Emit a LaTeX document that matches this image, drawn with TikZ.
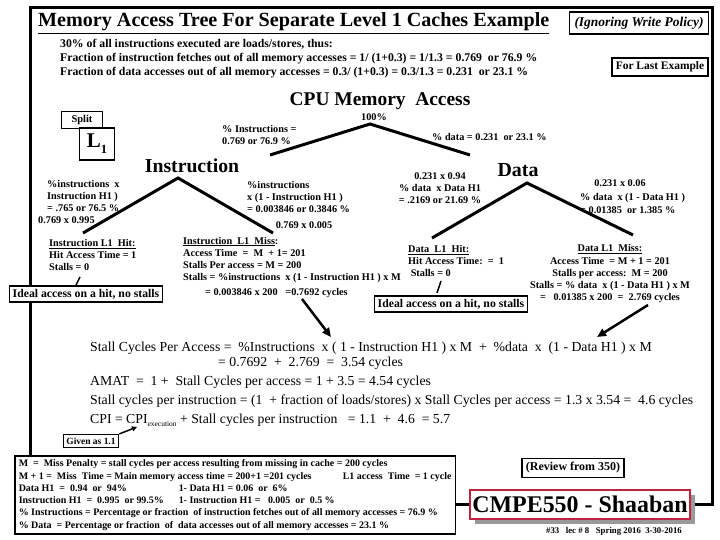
\documentclass[tikz,border=0pt]{standalone}
\usepackage{fontspec}
\setmainfont{Liberation Serif}
\usetikzlibrary{arrows.meta,shadows,backgrounds}
\definecolor{cmpered}{RGB}{190,35,65}
\newcommand\fs[2]{\fontsize{#1}{#2}\selectfont\bfseries}
\begin{document}
\begin{tikzpicture}[x=1bp,y=-1bp,
  frame/.style={line width=3bp},
  branch/.style={line width=3bp},
  lbl/.style={inner sep=0pt,align=left,font=\fs{10.3}{12.3}},
  mid/.style={inner sep=0pt,align=left,font=\fontsize{13.8}{19}\selectfont},
  box/.style={draw,line width=1.5bp,fill=white,inner sep=3bp},
  arr/.style={line width=2.5bp,-{Triangle[length=9bp,width=8bp]}},
  tick/.style={line width=1.5bp}]
\useasboundingbox (0,0) rectangle (720,540);
\node[anchor=base west,inner sep=0pt,font=\fs{20.2}{24}] (title) at (38,27) {\underline{Memory Access Tree For Separate Level 1 Caches Example}};
\node[box,inner sep=5bp,font=\fs{13.5}{15}\itshape] (ignore) at (639,23) {(Ignoring Write Policy)};
\node[lbl,anchor=west,font=\fs{11.8}{14}] (intro) at (60,59) {30\% of all instructions executed are loads/stores, thus:\\
Fraction of instruction fetches out of all memory accesses = 1/ (1+0.3) = 1/1.3 = 0.769\ \ or 76.9 \%\\
Fraction of data accesses out of all memory accesses = 0.3/ (1+0.3) = 0.3/1.3 = 0.231\ \ or 23.1 \%};
\node[box,inner sep=4bp,font=\fs{11.5}{13}] (last) at (660,67) {For Last Example};

\node[inner sep=0pt,font=\fs{19.5}{22}] (cpu) at (380,101) {CPU Memory\ \ Access};
\node[lbl] (all) at (374,117) {100\%};
\coordinate (root) at (370,124);
\coordinate (rootL) at (270,155);
\coordinate (rootR) at (470,155);
\draw[branch] (rootL) -- (root) -- (rootR);
\node[lbl,anchor=west] (pinst) at (222,135) {\% Instructions =\\0.769 or 76.9 \%};
\node[lbl,anchor=west] (pdata) at (432,137) {\% data = 0.231\ \ or\ 23.1 \%};

\node[box,minimum width=41bp,minimum height=17bp,inner sep=0pt,font=\fs{10.5}{12}] (split) at (82,120) {Split};
\node[box,minimum width=35bp,minimum height=32bp,inner sep=0pt,font=\fs{21}{22}] (l1) at (97,144) {L\raisebox{-0.3em}{\fs{12.5}{12}1}};

\node[inner sep=0pt,font=\fs{19.8}{22}] (inst) at (192,166) {Instruction};
\coordinate (ipeak) at (178,178);
\coordinate (iL) at (83,233);
\coordinate (iR) at (273,233);
\draw[branch] (iL) -- (ipeak) -- (iR);
\node[lbl,anchor=west] (ihitp) at (47,196) {\%instructions\ \ x\\Instruction H1 )\\= .765 or 76.5 \%};
\node[lbl,anchor=west] (ihitv) at (38,220) {0.769 x 0.995};
\node[lbl,anchor=west] (imissp) at (247,197) {\%instructions\\x (1 - Instruction H1 )\\= 0.003846 or 0.3846 \%};
\node[lbl] (imissv) at (304,225) {0.769 x 0.005};

\node[inner sep=0pt,font=\fs{20}{22}] (data) at (518,170) {Data};
\coordinate (dpeak) at (527,183);
\coordinate (dL) at (432,238);
\coordinate (dR) at (633,235);
\draw[branch] (dL) -- (dpeak) -- (dR);
\node[lbl,align=center] (dhitp) at (440,188) {0.231 x 0.94\\\% data\ \ x Data H1\\= .2169 or 21.69 \%};
\node[lbl] (dmissv) at (620,183) {0.231 x 0.06};
\node[lbl,anchor=west] (dmissp) at (580,203.5) {\% data\ \ x (1 - Data H1 )\\= 0.01385\ \ or\ 1.385 \%};

\node[lbl,anchor=west] (ihit) at (49,255) {\underline{Instruction L1\ \ Hit:}\\Hit Access Time = 1\\Stalls = 0};
\node[lbl,anchor=west] (imiss) at (183,260) {\underline{Instruction\ \ L1\ \ Miss}:\\Access Time\ \ =\ \ M\ \ + 1= 201\\Stalls Per access = M = 200\\Stalls = \%instructions\ \ x (1 - Instruction H1 ) x M};
\node[lbl,anchor=west] (icyc) at (205,293) {= 0.003846 x 200\ \ \ =0.7692 cycles};
\node[lbl,anchor=west] (dhit) at (408,261) {\underline{Data\ \ L1\ \ Hit:}\\Hit Access Time:\ \ =\ \ 1\\\ Stalls = 0};
\node[lbl,align=center] (dmiss) at (610,274) {\underline{Data L1\ \ Miss:}\\Access Time\ \ = M + 1 = 201\\Stalls per access:\ \ M = 200\\Stalls = \% data\ \ x (1 - Data H1 ) x M\\=\ \ \ 0.01385 x 200\ \ =\ \ 2.769 cycles};

\node[box,font=\fs{11.8}{13}] (ideal1) at (86,294) {Ideal access on a hit, no stalls};
\node[box,font=\fs{11.8}{13}] (ideal2) at (451,304) {Ideal access on a hit, no stalls};
\coordinate (t1a) at (80,277);
\coordinate (t1b) at (76,285);
\coordinate (t2a) at (441,281);
\coordinate (t2b) at (437,293);
\draw[tick] (t1a) -- (t1b);
\draw[tick] (t2a) -- (t2b);

\node[mid,anchor=west] (stall) at (90,348) {Stall Cycles Per Access =\ \ \%Instructions\ \ x ( 1 - Instruction H1 ) x M\ \ +\ \ \%data\ \ x\ \ (1 - Data H1 ) x M};
\node[mid,anchor=west] (stallv) at (218,363) {= 0.7692\ \ +\ \ 2.769\ \ =\ \ 3.54 cycles};
\node[mid,anchor=west] (amat) at (90,401) {AMAT\ \ =\ \ 1 +\ \ Stall Cycles per access = 1 + 3.5 = 4.54 cycles\\
Stall cycles per instruction = (1\ \ + fraction of loads/stores) x Stall Cycles per access = 1.3 x 3.54 =\ \ 4.6 cycles\\
CPI = CPI\raisebox{-3bp}{\fontsize{7.5}{7}\selectfont execution} + Stall cycles per instruction\ \ \ = 1.1\ \ +\ \ 4.6\ \ = 5.7};
\coordinate (a1s) at (302,299);
\coordinate (a1e) at (331,337);
\coordinate (a2s) at (648,305);
\coordinate (a2e) at (597,337);
\draw[arr] (a1s) -- (a1e);
\draw[arr] (a2s) -- (a2e);

\node[box,font=\fs{9.5}{11}] (given) at (91,441) {Given as 1.1};
\coordinate (cpiexec) at (137,427);
\draw[line width=1.5bp,-{Triangle[length=5bp,width=5bp]}] (given.north east) -- (cpiexec);

\node[box,anchor=north west,align=left,inner sep=4bp,font=\fs{10}{12.3}] (defs) at (14,455) {M\ \ =\ \ Miss Penalty = stall cycles per access resulting from missing in cache = 200 cycles\\
\makebox[324bp][l]{M + 1 =\ \ Miss\ \ Time = Main memory access time = 200+1 =201 cycles}L1 access\ \ Time\ \ = 1 cycle\\
\makebox[160bp][l]{Data H1\ \ =\ \ 0.94\ \ or\ \ 94\%}1- Data H1 = 0.06\ \ or\ \ 6\%\\
\makebox[160bp][l]{Instruction H1\ \ =\ \ 0.995\ \ or 99.5\%}1- Instruction H1 =\ \ \ 0.005\ \ or\ \ 0.5 \%\\
\% Instructions = Percentage or fraction\ \ of instruction fetches out of all memory accesses = 76.9 \%\\
\% Data\ \ = Percentage or fraction\ \ of\ \ data accesses out of all memory accesses = 23.1 \%};

\node[box,inner sep=4bp,font=\fs{12}{13}] (review) at (573,468) {(Review from 350)};
\node[draw=cmpered,line width=2bp,fill=white,inner sep=0pt,minimum width=220bp,minimum height=29bp,
  drop shadow={shadow xshift=5bp,shadow yshift=-5bp,fill=gray!80,opacity=1},font=\fs{24}{26}] (cmpe) at (580,504) {CMPE550 - Shaaban};
\node[inner sep=0pt,font=\fs{8.8}{10}] (foot) at (614,531) {\#33\ \ \ lec \# 8\ \ \ Spring 2016\ \ 3-30-2016};

\coordinate (ftl) at (30,8);
\coordinate (ftr) at (712,8);
\begin{scope}[on background layer]
\fill[white] (0,0) rectangle (720,540);
\draw[frame] (defs.north west -| ftl) -- (ftl) -- (ftr) |- (cmpe.east);
\draw[frame] (defs.east |- cmpe.west) -- (cmpe.west);
\end{scope}
\end{tikzpicture}
\end{document}
